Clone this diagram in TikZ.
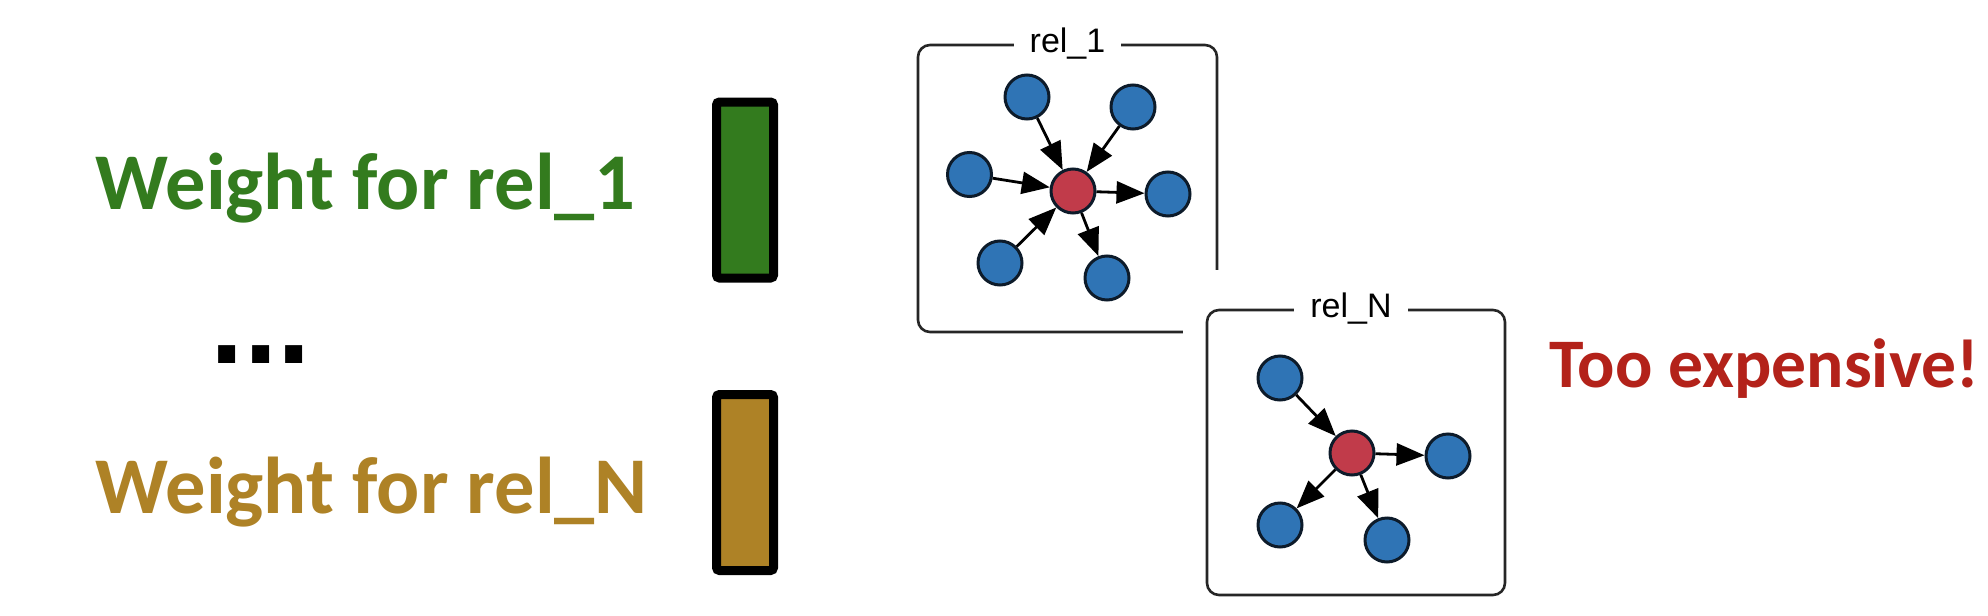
\documentclass[tikz,border=0pt]{standalone}
\usepackage{fontspec}
\setmainfont{Carlito}
\newfontfamily\helv{Liberation Sans}
\usetikzlibrary{arrows.meta}
\definecolor{wgreen}{HTML}{337B1E}
\definecolor{wgold}{HTML}{AE8226}
\definecolor{wred}{HTML}{B3221A}
\definecolor{nblue}{HTML}{2F74B5}
\definecolor{nred}{HTML}{C13B4A}
\definecolor{nborder}{HTML}{0D1B2A}
\tikzset{
  bigtext/.style={inner sep=0pt, anchor=base west, font=\fontsize{40.25pt}{48pt}\selectfont\bfseries},
  weightbar/.style={draw=black, line width=4.5pt, rounded corners=1.5pt, minimum width=28.5pt, minimum height=88pt, inner sep=0pt},
  panel/.style={draw=black!85, line width=1.3pt, rounded corners=6pt, inner sep=0pt},
  panellabel/.style={fill=white, inner xsep=8pt, inner ysep=2pt, font=\helv\fontsize{17pt}{19pt}\selectfont},
  bnode/.style={circle, draw=nborder, line width=1.5pt, fill=nblue, minimum size=22pt, inner sep=0pt},
  rnode/.style={circle, draw=nborder, line width=1.5pt, fill=nred, minimum size=22pt, inner sep=0pt},
  edge/.style={-{Triangle[length=14pt,width=11pt]}, line width=1.4pt, black},
}
\begin{document}
\begin{tikzpicture}[x=0.5pt,y=-0.5pt]
\useasboundingbox[fill=white] (0,0) rectangle (1988,616);

% left texts
\node[bigtext, text=wgreen] (w1) at (95,209) {Weight for rel\_1};
\node[inner sep=0pt, anchor=base, font=\helv\fontsize{60pt}{70pt}\selectfont\bfseries] (dots) at (261,363) {...};
\node[bigtext, text=wgold] (wn) at (95,513) {Weight for rel\_N};

% bars
\node[weightbar, fill=wgreen] (bar1) at (745,190) {};
\node[weightbar, fill=wgold] (barn) at (745,482.5) {};

% panel rel_1
\node[panel, minimum width=149.5pt, minimum height=143.5pt] (box1) at (1067.5,188.5) {};
\node[panellabel] (lab1) at (box1.north) {rel\_1};
\node[rnode] (c1) at (1073,191) {};
\node[bnode] (a1) at (1027,97) {};
\node[bnode] (a2) at (1133,107) {};
\node[bnode] (a3) at (969.5,174.5) {};
\node[bnode] (a4) at (1168,194) {};
\node[bnode] (a5) at (1000,263) {};
\node[bnode] (a6) at (1107,278) {};
\draw[edge] (a1) -- (c1);
\draw[edge] (a2) -- (c1);
\draw[edge] (a3) -- (c1);
\draw[edge] (a5) -- (c1);
\draw[edge] (c1) -- (a4);
\draw[edge] (c1) -- (a6);

% cover of the second panel
\fill[white] (1183,270) rectangle (1530,616);

% panel rel_N
\node[panel, minimum width=149pt, minimum height=142.5pt] (boxn) at (1356,452.5) {};
\node[panellabel] (labn) at ([xshift=-2.5pt]boxn.north) {rel\_N};
\node[rnode] (cn) at (1352,453) {};
\node[bnode] (b1) at (1280,378) {};
\node[bnode] (b2) at (1448,456) {};
\node[bnode] (b3) at (1280,525) {};
\node[bnode] (b4) at (1387,540) {};
\draw[edge] (b1) -- (cn);
\draw[edge] (cn) -- (b2);
\draw[edge] (cn) -- (b3);
\draw[edge] (cn) -- (b4);

% right text
\node[inner sep=0pt, anchor=base west, text=wred, font=\fontsize{34.8pt}{40pt}\selectfont\bfseries] (te) at (1549,387) {Too expensive!};
\end{tikzpicture}
\end{document}
